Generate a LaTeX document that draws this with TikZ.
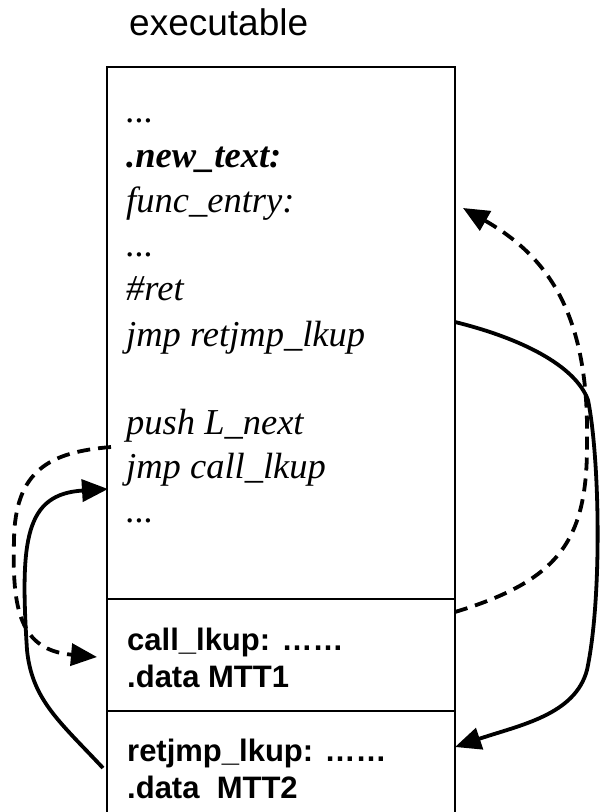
\documentclass[tikz,border=0pt]{standalone}
\usepackage{fontspec}
\setmainfont{Liberation Serif}
\setsansfont{Liberation Sans}
\usetikzlibrary{arrows.meta}

\begin{document}
\begin{tikzpicture}[x=1pt,y=-1pt,
    % styles
    code line/.style={anchor=base west,inner sep=0pt,font=\fontsize{36.5}{43}\selectfont\itshape},
    table line/.style={anchor=base west,inner sep=0pt,font=\fontsize{31}{37}\selectfont\sffamily\bfseries},
    box line/.style={line width=2.2pt},
    jump/.style={line width=3.8pt,-{Triangle[length=26pt,width=22pt]}},
    lookup/.style={jump,dash pattern=on 13pt off 8pt}]

  \useasboundingbox (0,0) rectangle (600,812);

  % title
  \node[anchor=base west,inner sep=0pt,font=\fontsize{37}{42}\selectfont\sffamily] (title) at (129,35) {executable};

  % box
  \draw[box line] (107,812) -- (107,67) -- (455,67) -- (455,812);
  \draw[box line] (107,599) -- (455,599);
  \draw[box line] (107,711) -- (455,711);

  % text section
  \node[code line] (dots1) at (126,122) {...};
  \node[code line] (newtext) at (126,167) {\bfseries .new\_text:};
  \node[code line] (entry) at (126,212) {func\_entry:};
  \node[code line] (dots2) at (126,256) {...};
  \node[code line] (ret) at (126,300) {\#ret};
  \node[code line] (jmpret) at (126,346) {jmp retjmp\_lkup};
  \node[code line] (push) at (126,434) {push L\_next};
  \node[code line] (jmpcall) at (126,478) {jmp call\_lkup};
  \node[code line] (dots3) at (126,522) {...};

  % lookup tables
  \node[table line] (calllkup) at (127,650) {call\_lkup: ……};
  \node[table line] (mtt1) at (127,687) {.data MTT1};
  \node[table line] (retlkup) at (127,761) {retjmp\_lkup: ……};
  \node[table line] (mtt2) at (127,798) {.data\ \ MTT2};

  % end points on the box
  \coordinate (entry in) at (463,208);
  \coordinate (ret out) at (455,322);
  \coordinate (push out) at (111,447);
  \coordinate (call in) at (108,489);
  \coordinate (call lkup in) at (97,657);
  \coordinate (call lkup out) at (455,612);
  \coordinate (ret lkup in) at (455,747);
  \coordinate (ret lkup out) at (103,768);

  % jumps
  \draw[lookup] (call lkup out) .. controls (560,580) and (588,540) .. (587,440)
    .. controls (589,310) and (545,255) .. (entry in);
  \draw[jump] (ret out) .. controls (520,338) and (575,365) .. (588,400)
    .. controls (600,460) and (602,600) .. (587,670)
    .. controls (575,715) and (520,725) .. (ret lkup in);
  \draw[lookup] (push out) .. controls (50,452) and (15,470) .. (14,540)
    .. controls (12,610) and (20,650) .. (call lkup in);
  \draw[jump] (ret lkup out) .. controls (60,722) and (32,700) .. (27,650)
    .. controls (20,540) and (25,494) .. (call in);
\end{tikzpicture}
\end{document}
